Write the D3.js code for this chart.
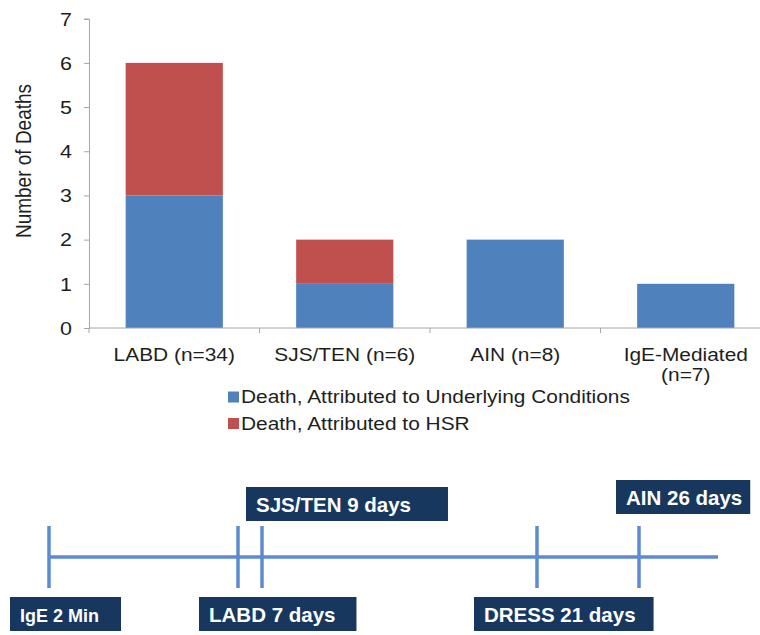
<!DOCTYPE html>
<html><head><meta charset="utf-8">
<script src="https://cdn.jsdelivr.net/npm/d3@7/dist/d3.min.js"></script>
<style>body{margin:0;background:#fff}svg{display:block}text{font-family:"Liberation Sans",Arial,sans-serif}</style>
</head><body><svg id="c" width="760" height="635"></svg>
<script>
// ---- data ----
const categories = ["LABD (n=34)", "SJS/TEN (n=6)", "AIN (n=8)", "IgE-Mediated (n=7)"];
const seriesNames = ["Death, Attributed to Underlying Conditions", "Death, Attributed to HSR"];
const underlying = [3, 1, 2, 1];
const hsr = [3, 1, 0, 0];
const yTicks = [0, 1, 2, 3, 4, 5, 6, 7];
const eventLabels = ["IgE 2 Min", "LABD 7 days", "SJS/TEN 9 days", "DRESS 21 days", "AIN 26 days"];
const eventDays = [0, 7, 9, 21, 26];
const eventSide = ["below", "below", "above", "below", "above"];

// ---- layout ----
const colors = ["#4f81bd", "#c0504d"];
const textColor = "#1e1e1e";
const stretch = 1.13; // horizontal stretch of the reference text
const fs = 18.5;
const svg = d3.select("#c");
const m = {left: 89, top: 18.7, bottom: 328, right: 771};
const x = d3.scaleBand().domain(categories).range([m.left, m.right]).paddingInner(0.43).paddingOuter(0.215);
const y = d3.scaleLinear().domain([0, 7]).range([m.bottom, m.top]);

const rows = categories.map((c, i) => ({cat: c, underlying: underlying[i], hsr: hsr[i]}));
const stack = d3.stack().keys(["underlying", "hsr"])(rows);

svg.append("g").selectAll("g").data(stack).join("g")
  .attr("fill", (d, i) => colors[i])
  .selectAll("rect").data(d => d).join("rect")
  .attr("x", d => x(d.data.cat))
  .attr("width", x.bandwidth())
  .attr("y", d => y(d[1]))
  .attr("height", d => y(d[0]) - y(d[1]));

// y axis
const ya = svg.append("g").attr("transform", `translate(${m.left},0)`)
  .call(d3.axisLeft(y).tickValues(yTicks).tickSize(5).tickFormat(""));
ya.select(".domain").attr("stroke", "#a6a6a6");
ya.selectAll(".tick line").attr("stroke", "#a6a6a6");
svg.append("g").selectAll("text").data(yTicks).join("text")
  .attr("transform", d => `translate(72,${y(d)}) scale(${stretch},1)`)
  .attr("dy", "0.36em").attr("text-anchor", "end")
  .attr("font-size", fs + 0.5).attr("fill", textColor).text(d => d);

// x axis
const xBoundary = d3.scaleLinear().domain([0, categories.length]).range([m.left, m.right]);
svg.append("line").attr("x1", m.left).attr("x2", m.right).attr("y1", m.bottom).attr("y2", m.bottom).attr("stroke", "#a6a6a6");
svg.append("g").selectAll("line").data(d3.range(categories.length + 1)).join("line")
  .attr("x1", d => xBoundary(d)).attr("x2", d => xBoundary(d))
  .attr("y1", m.bottom).attr("y2", m.bottom + 5).attr("stroke", "#a6a6a6");

const xl = svg.append("g").selectAll("text").data(categories).join("text")
  .attr("transform", d => `translate(${x(d) + x.bandwidth() / 2},361) scale(${stretch},1)`)
  .attr("text-anchor", "middle").attr("font-size", fs).attr("fill", textColor);
xl.each(function(d) {
  const t = d3.select(this);
  const parts = d.startsWith("IgE") ? ["IgE-Mediated", "(n=7)"] : [d];
  parts.forEach((p, i) => t.append("tspan").attr("x", 0).attr("dy", i ? 20 : 0).text(p));
});

// y title
svg.append("text").attr("transform", `translate(31,161) rotate(-90) scale(1,${stretch})`)
  .attr("text-anchor", "middle").attr("font-size", 19).attr("fill", textColor).text("Number of Deaths");

// legend
const lg = svg.append("g").selectAll("g").data(seriesNames).join("g")
  .attr("transform", (d, i) => `translate(228,${391.5 + i * 26.5})`);
lg.append("rect").attr("width", 11).attr("height", 11).attr("fill", (d, i) => colors[i]);
lg.append("text").attr("transform", `translate(13,11.5) scale(${stretch},1)`)
  .attr("font-size", fs).attr("fill", textColor).text(d => d);

// ---- timeline ----
const tlColor = "#5b8bd0";
const tx = d3.scaleLinear().domain([0, 7, 9, 21, 26, 29]).range([49, 238, 262, 537, 639, 718]);
const lineY = 557;
svg.append("line").attr("x1", tx(0)).attr("x2", tx(29)).attr("y1", lineY).attr("y2", lineY)
  .attr("stroke", tlColor).attr("stroke-width", 3.5);
svg.append("g").selectAll("line").data(eventDays).join("line")
  .attr("x1", d => tx(d)).attr("x2", d => tx(d)).attr("y1", lineY - 31).attr("y2", lineY + 31)
  .attr("stroke", tlColor).attr("stroke-width", 3.5);

const boxDx = [-39, -39, -16, -63, -23];
const boxTop = {above: [487, 480], below: 597};
const fontSizes = [18, 20.5, 20.5, 20.5, 20.5];
const rightPad = [22, 21, 37, 18, 8];
let aboveIdx = 0;
eventLabels.forEach((lab, i) => {
  const g = svg.append("g");
  const bx = tx(eventDays[i]) + boxDx[i];
  const by = eventSide[i] === "above" ? boxTop.above[aboveIdx++] : boxTop.below;
  const rect = g.append("rect").attr("fill", "#17375e");
  const t = g.append("text").attr("x", bx + 10).attr("y", by + 24.5)
    .attr("font-size", fontSizes[i]).attr("font-weight", "bold").attr("fill", "#fff").text(lab);
  const bb = t.node().getBBox();
  rect.attr("x", bx).attr("y", by).attr("width", bb.width + 10 + rightPad[i]).attr("height", 34);
});
</script></body></html>
